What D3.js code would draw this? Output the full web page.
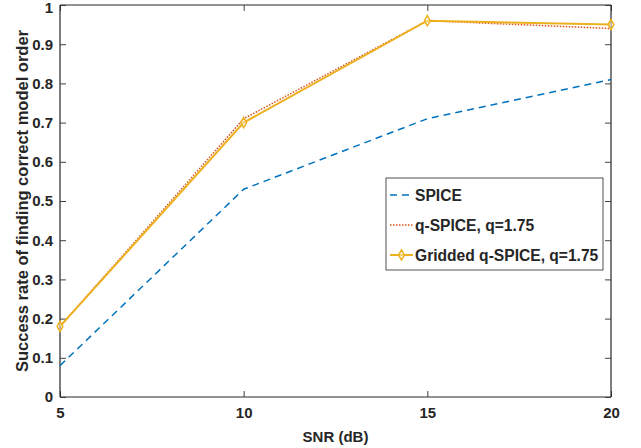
<!DOCTYPE html>
<html><head><meta charset="utf-8">
<script src="https://cdn.jsdelivr.net/npm/d3@7"></script>
<style>body{margin:0;background:#fff}svg{display:block}text{font-family:"Liberation Sans",Arial,sans-serif;font-weight:bold;fill:#262626}</style>
</head><body><svg id="c" width="641" height="448"></svg>
<script>
const snr = [5, 10, 15, 20];
const spice = [0.08, 0.53, 0.71, 0.81];
const qSpice = [0.18, 0.71, 0.96, 0.94];
const griddedQSpice = [0.18, 0.70, 0.96, 0.95];
const xTicks = [5, 10, 15, 20];
const yTicks = [0, 0.1, 0.2, 0.3, 0.4, 0.5, 0.6, 0.7, 0.8, 0.9, 1];
const seriesNames = ["SPICE", "q-SPICE, q=1.75", "Gridded q-SPICE, q=1.75"];

const svg = d3.select("#c");
const L = 60, R = 611, T = 5, B = 397;
const x = d3.scaleLinear().domain([5, 20]).range([L, R]);
const y = d3.scaleLinear().domain([0, 1]).range([B, T]);
const axisCol = "#262626";
const tk = 6;
const fs = 15;

// axes
const gx = svg.append("g").attr("transform", `translate(0,${B})`)
  .call(d3.axisBottom(x).tickValues(xTicks).tickFormat(d3.format("d")).tickSizeInner(-tk).tickSizeOuter(0).tickPadding(10));
const gxt = svg.append("g").attr("transform", `translate(0,${T})`)
  .call(d3.axisTop(x).tickValues(xTicks).tickFormat("").tickSizeInner(-tk).tickSizeOuter(0));
const gy = svg.append("g").attr("transform", `translate(${L},0)`)
  .call(d3.axisLeft(y).tickValues(yTicks).tickFormat(d => d === 0 || d === 1 ? d3.format("d")(d) : d3.format(".1f")(d)).tickSizeInner(-tk).tickSizeOuter(0).tickPadding(7));
const gyr = svg.append("g").attr("transform", `translate(${R},0)`)
  .call(d3.axisRight(y).tickValues(yTicks).tickFormat("").tickSizeInner(-tk).tickSizeOuter(0));
[gx, gxt, gy, gyr].forEach(g => {
  g.selectAll(".domain").attr("stroke", axisCol).attr("stroke-width", 1.2);
  g.selectAll(".tick line").attr("stroke", "#404040").attr("stroke-width", 1);
  g.selectAll("text").attr("font-size", fs).attr("font-family", "Liberation Sans, Arial, sans-serif").attr("font-weight", "bold").attr("fill", axisCol);
});
gy.selectAll(".tick").filter(d => d === 1).select("text").attr("dy", "0.5em");
gx.selectAll(".domain").attr("d", `M${L},0H${R}`);
gxt.selectAll(".domain").attr("d", `M${L},0H${R}`);
gy.selectAll(".domain").attr("d", `M0,${T}V${B}`);
gyr.selectAll(".domain").attr("d", `M0,${T}V${B}`);

// titles
svg.append("text").attr("x", (L + R) / 2).attr("y", 442).attr("text-anchor", "middle").attr("font-size", fs).text("SNR (dB)");
svg.append("text").attr("transform", `translate(28,${(T + B) / 2}) rotate(-90)`).attr("text-anchor", "middle").attr("font-size", 16.5).text("Success rate of finding correct model order");

// series
const colors = ["#0072BD", "#D95319", "#EDB120"];
const dashes = ["7,5", "1.5,1.5", null];
const widths = [1.5, 1.5, 2];
const datasets = [spice, qSpice, griddedQSpice];
const line = d3.line().x((d, i) => x(snr[i])).y(d => y(d));
datasets.forEach((ds, k) => {
  svg.append("path").datum(ds).attr("d", line).attr("fill", "none")
    .attr("stroke", colors[k]).attr("stroke-width", widths[k])
    .attr("stroke-dasharray", dashes[k]);
});
const diamond = d3.symbol().type(d3.symbolDiamond).size(30);
svg.append("g").selectAll("path").data(griddedQSpice).join("path")
  .attr("transform", (d, i) => `translate(${x(snr[i])},${y(d)})`)
  .attr("d", diamond).attr("fill", "#fff").attr("fill-opacity", 0.4)
  .attr("stroke", colors[2]).attr("stroke-width", 1.5);

// legend
const lg = svg.append("g");
lg.append("rect").attr("x", 386).attr("y", 178).attr("width", 217).attr("height", 92)
  .attr("fill", "#fff").attr("stroke", axisCol).attr("stroke-width", 0.8);
const ly = [195, 225, 255];
seriesNames.forEach((n, k) => {
  lg.append("line").attr("x1", 390).attr("x2", 413).attr("y1", ly[k]).attr("y2", ly[k])
    .attr("stroke", colors[k]).attr("stroke-width", widths[k]).attr("stroke-dasharray", dashes[k]);
  lg.append("text").attr("x", 415).attr("y", ly[k] + 5.5).attr("font-size", 15.6).text(n);
});
lg.append("path").attr("transform", `translate(401.5,${ly[2]})`).attr("d", diamond)
  .attr("fill", "#fff").attr("fill-opacity", 0.4).attr("stroke", colors[2]).attr("stroke-width", 1.5);
</script></body></html>
